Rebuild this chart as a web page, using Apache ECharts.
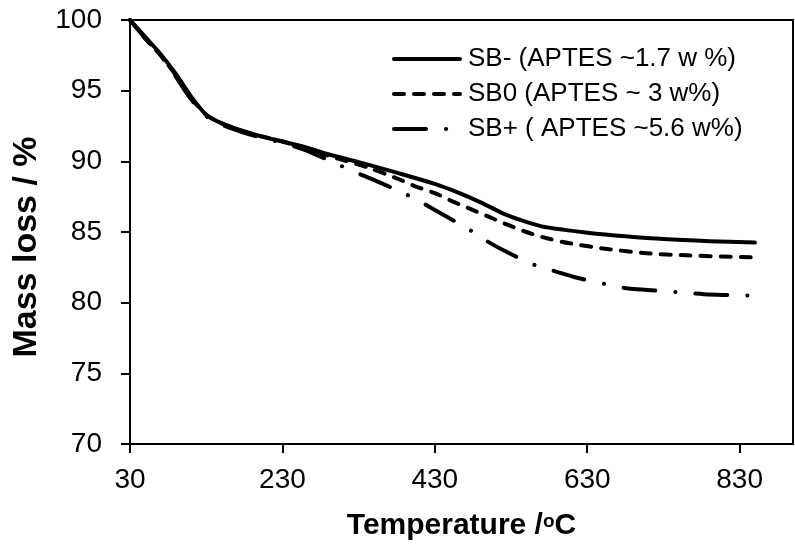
<!DOCTYPE html>
<html>
<head>
<meta charset="utf-8">
<script src="https://cdn.jsdelivr.net/npm/echarts@6/dist/echarts.min.js"></script>
<style>html,body{margin:0;padding:0;background:#fff}#c{width:795px;height:547px}</style>
</head>
<body>
<div id="c"></div>
<script>
const seriesNames = ['SB- (APTES ~1.7 w %)', 'SB0 (APTES ~ 3 w%)', 'SB+ ( APTES ~5.6 w%)'];
const xTicks = [30, 230, 430, 630, 830];
const yTicks = [70, 75, 80, 85, 90, 95, 100];
const sbMinus = [[30,100],[50,98.8],[70,97.6],[90,96.2],[110,94.6],[130,93.3],[150,92.7],[175,92.2],[200,91.8],[230,91.4],[260,91.0],[290,90.5],[340,89.8],[380,89.2],[430,88.4],[460,87.8],[490,87.1],[520,86.3],[545,85.8],[570,85.4],[600,85.15],[630,84.95],[680,84.7],[730,84.5],[790,84.35],[850,84.25]];
const sbZero = [[30,100],[50,98.7],[70,97.5],[90,96.1],[110,94.5],[130,93.3],[150,92.7],[175,92.2],[200,91.8],[230,91.4],[260,90.9],[290,90.4],[340,89.6],[380,88.8],[406,88.2],[430,87.75],[454,87.15],[478,86.6],[502,86.05],[526,85.5],[550,85.0],[574,84.6],[607,84.2],[656,83.8],[708,83.5],[760,83.35],[850,83.2]];
const sbPlus = [[30,100],[50,98.7],[70,97.5],[90,96.0],[110,94.4],[130,93.2],[150,92.6],[175,92.1],[200,91.7],[230,91.3],[260,90.8],[296,89.95],[325,89.25],[349,88.7],[391,87.7],[414,87.05],[437,86.35],[458,85.7],[478,85.07],[500,84.3],[522,83.65],[543,83.1],[564,82.6],[589,82.2],[614,81.8],[637,81.5],[660,81.25],[684,81.0],[709,80.9],[733,80.8],[758,80.7],[783,80.6],[808,80.55],[850,80.5]];

const FONT = 'Liberation Sans, Arial, sans-serif';
const chart = echarts.init(document.getElementById('c'), null, {renderer: 'canvas'});
const lineTypes = ['solid', [10, 10], [32, 20, 0.1, 20]];
const datas = [sbMinus, sbZero, sbPlus];
chart.setOption({
  animation: false,
  backgroundColor: '#fff',
  grid: {left: 130, top: 20, right: 2, bottom: 103, show: true, borderColor: '#000', borderWidth: 2, backgroundColor: 'transparent'},
  legend: {
    orient: 'vertical', left: 392, top: 46, padding: 0,
    itemWidth: 66, itemHeight: 26, itemGap: 9,
    data: seriesNames,
    itemStyle: {color: 'rgba(0,0,0,0)', borderColor: 'rgba(0,0,0,0)', borderWidth: 0, opacity: 0},
    lineStyle: {width: 4},
    textStyle: {fontFamily: FONT, fontSize: 26, color: '#000', lineHeight: 26, padding: [0, 0, 0, 3]}
  },
  xAxis: {
    type: 'value', min: 30, max: 900, interval: 200,
    name: 'Temperature /{s|o}C', nameLocation: 'middle', nameGap: 67,
    nameTextStyle: {fontFamily: FONT, fontSize: 30, fontWeight: 'bold', color: '#000',
      rich: {s: {fontFamily: FONT, fontSize: 19, fontWeight: 'bold', color: '#000', padding: [0, 0, 9, 0]}}},
    axisLine: {show: true, lineStyle: {color: '#000', width: 2}},
    axisTick: {show: true, inside: false, length: 9, lineStyle: {color: '#000', width: 2}, customValues: xTicks},
    axisLabel: {fontFamily: FONT, fontSize: 28, color: '#000', margin: 22, customValues: xTicks},
    splitLine: {show: false}
  },
  yAxis: {
    type: 'value', min: 70, max: 100, interval: 5,
    name: 'Mass loss / %', nameLocation: 'middle', nameGap: 86, nameRotate: 90,
    nameTextStyle: {fontFamily: FONT, fontSize: 34, fontWeight: 'bold', color: '#000', padding: [0, 30, 0, 0]},
    axisLine: {show: true, lineStyle: {color: '#000', width: 2}},
    axisTick: {show: true, inside: false, length: 9, lineStyle: {color: '#000', width: 2}, customValues: yTicks},
    axisLabel: {fontFamily: FONT, fontSize: 28, color: '#000', margin: 28, customValues: yTicks},
    splitLine: {show: false}
  },
  series: seriesNames.map((n, i) => ({
    name: n, type: 'line', data: datas[i], smooth: 0.3, symbol: 'none', showSymbol: false,
    lineStyle: {color: '#000', width: 4, type: lineTypes[i], cap: 'round', join: 'round'},
    itemStyle: {color: 'rgba(0,0,0,0)', borderWidth: 0}
  }))
});
</script>
</body>
</html>
